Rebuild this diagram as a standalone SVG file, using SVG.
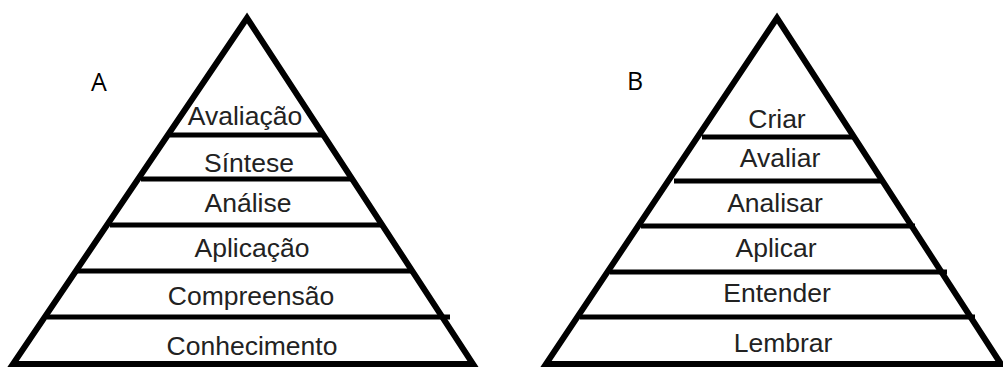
<svg xmlns="http://www.w3.org/2000/svg" width="1003" height="367" viewBox="0 0 1003 367">
<style>
.tri{fill:#fff;stroke:#000;stroke-width:6;stroke-linejoin:miter}
.sep{stroke:#000;stroke-width:5;fill:none}
.lbl{font-family:"Liberation Sans",Arial,sans-serif;font-size:26.5px;fill:#222;text-anchor:middle}
.tag{font-family:"Open Sans","Liberation Sans",sans-serif;font-size:25px;fill:#000}
</style>
<rect width="1003" height="367" fill="#fff"/>
<g id="pyramid-a">
<polygon class="tri" points="247,18 13,364 473,364"/>
<g id="connectors-a">
<line class="sep" x1="170" y1="135" x2="325" y2="135"/>
<line class="sep" x1="141" y1="179" x2="354" y2="179"/>
<line class="sep" x1="110" y1="225" x2="384" y2="225"/>
<line class="sep" x1="77" y1="271" x2="414" y2="271"/>
<line class="sep" x1="47" y1="317" x2="450" y2="317"/>
</g>
<g id="a-avaliacao"><text class="lbl" x="245" y="125">Avaliação</text></g>
<g id="a-sintese"><text class="lbl" x="249" y="172">Síntese</text></g>
<g id="a-analise"><text class="lbl" x="248" y="212">Análise</text></g>
<g id="a-aplicacao"><text class="lbl" x="252" y="257">Aplicação</text></g>
<g id="a-compreensao"><text class="lbl" x="251" y="305">Compreensão</text></g>
<g id="a-conhecimento"><text class="lbl" x="252" y="355">Conhecimento</text></g>
<g id="label-a"><text class="tag" x="91" y="91">A</text></g>
</g>
<g id="pyramid-b">
<polygon class="tri" points="777,18 546,364 1001,364"/>
<g id="connectors-b">
<line class="sep" x1="702" y1="137" x2="855" y2="137"/>
<line class="sep" x1="674" y1="181" x2="884" y2="181"/>
<line class="sep" x1="641" y1="226" x2="915" y2="226"/>
<line class="sep" x1="610" y1="272" x2="947" y2="272"/>
<line class="sep" x1="580" y1="317" x2="975" y2="317"/>
</g>
<g id="b-criar"><text class="lbl" x="777" y="128">Criar</text></g>
<g id="b-avaliar"><text class="lbl" x="780" y="167">Avaliar</text></g>
<g id="b-analisar"><text class="lbl" x="775" y="212">Analisar</text></g>
<g id="b-aplicar"><text class="lbl" x="776" y="257">Aplicar</text></g>
<g id="b-entender"><text class="lbl" x="777" y="302">Entender</text></g>
<g id="b-lembrar"><text class="lbl" x="783" y="352">Lembrar</text></g>
<g id="label-b"><text class="tag" x="627" y="90">B</text></g>
</g>
</svg>
